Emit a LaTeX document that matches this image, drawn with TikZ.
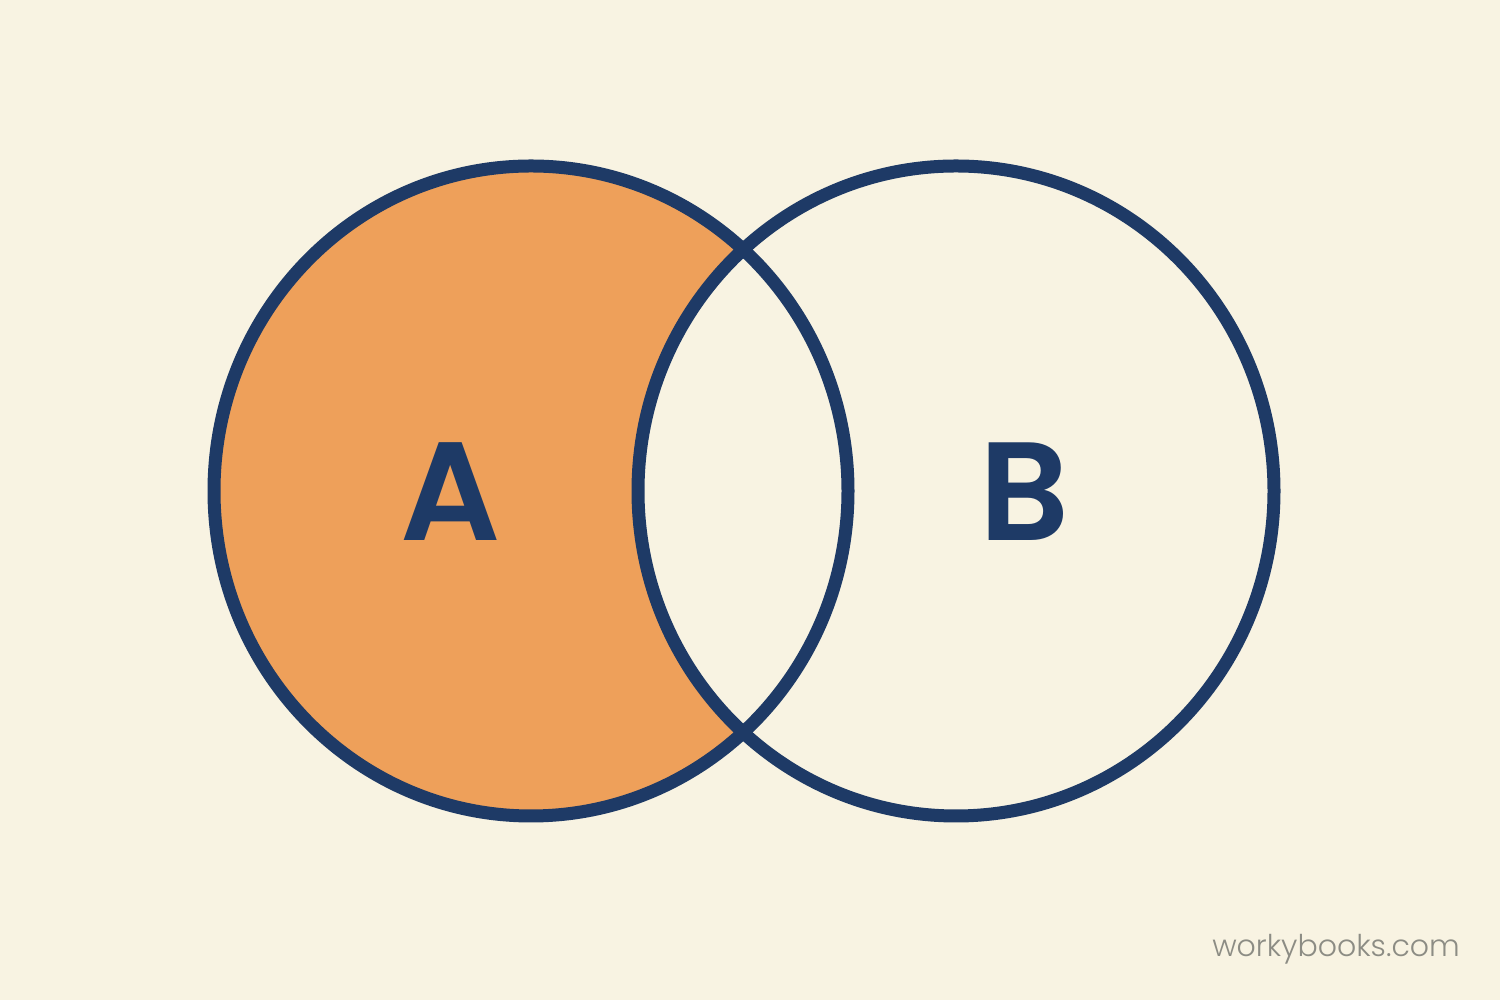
\documentclass[tikz,border=0pt]{standalone}
\usepackage{fontspec}
\setmainfont{Poppins}
\newfontfamily\wmfont{Poppins Light}
\newfontfamily\letterfont{Poppins SemiBold}
\definecolor{bg}{HTML}{F8F3E2}
\definecolor{orangeA}{HTML}{EEA05A}
\definecolor{navy}{HTML}{1E3A66}
\definecolor{wmgray}{HTML}{8C8C84}
\begin{document}
\begin{tikzpicture}[x=1pt,y=1pt,
  ring/.style={draw=navy,line width=13pt},
  letter/.style={text=navy,font=\letterfont\fontsize{140}{140}\selectfont,inner sep=0pt,anchor=base},
  wm/.style={text=wmgray,font=\wmfont\fontsize{30}{30}\selectfont,inner sep=0pt,anchor=base east}]
\fill[bg] (0,0) rectangle (1500,1000);
\useasboundingbox (0,0) rectangle (1500,1000);
\coordinate (cA) at (531,509);
\coordinate (cB) at (956,509);
\begin{scope}
  \clip (cA) ellipse [x radius=317, y radius=325];
  \fill[orangeA] (cA) ellipse [x radius=317, y radius=325];
  \fill[bg] (cB) ellipse [x radius=318, y radius=325];
\end{scope}
\draw[ring] (cA) ellipse [x radius=317, y radius=325];
\draw[ring] (cB) ellipse [x radius=318, y radius=325];
\node[letter] (A) at (451,459) {A};
\node[letter] (B) at (1025,459) {B};
\node[wm] (site) at (1460,43) {workybooks.com};
\end{tikzpicture}
\end{document}
